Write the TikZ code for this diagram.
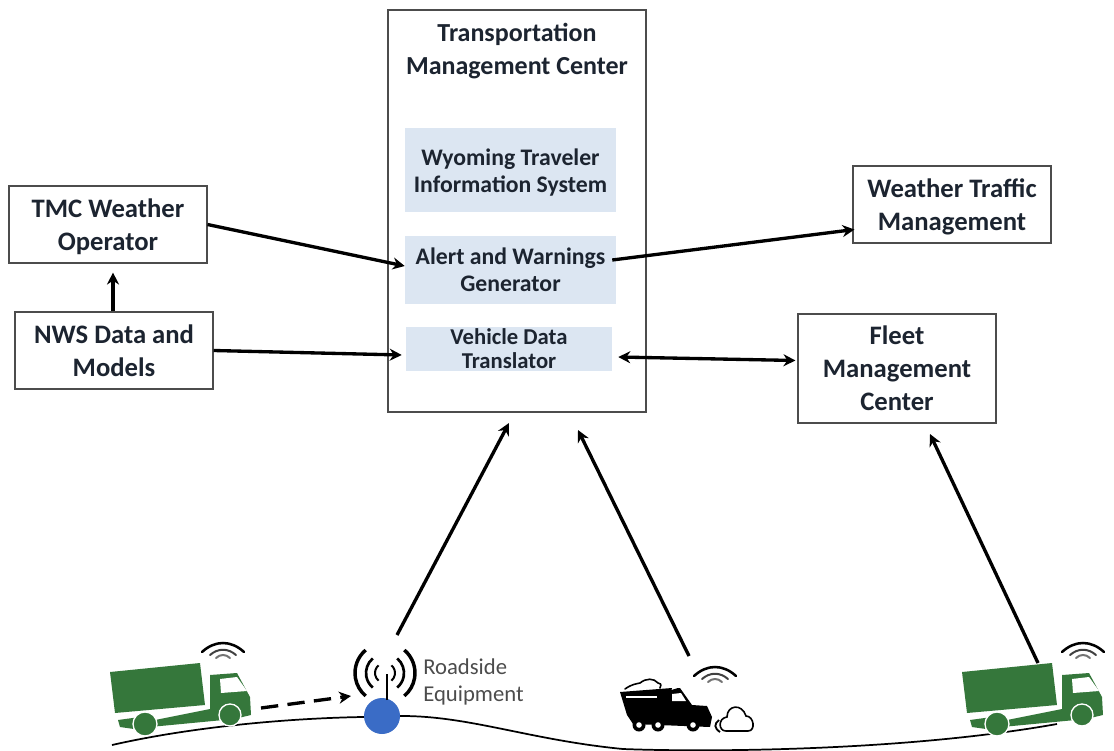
\documentclass[tikz,border=0pt]{standalone}
\usepackage{fontspec}
\setmainfont{Carlito}
\usetikzlibrary{arrows.meta}
\definecolor{ink}{HTML}{1C2430}
\definecolor{pale}{HTML}{DCE6F2}
\definecolor{truckgreen}{HTML}{35773B}
\definecolor{dotblue}{HTML}{3A6CC6}
\newcommand{\lowerbig}{\rule{0pt}{18pt}}
\newcommand{\lowersmall}{\rule{0pt}{16pt}}
\tikzset{
  x=0.75pt,y=-0.75pt,
  outerbox/.style={draw=black!70,line width=0.8pt,fill=white,align=center,inner sep=0pt,text=ink,font=\fontsize{20}{24.7}\selectfont\bfseries},
  palebox/.style={fill=pale,align=center,inner sep=0pt,text=ink,font=\fontsize{17.8}{20}\selectfont\bfseries},
  conn/.style={draw=black,line width=2.5pt,-{Stealth[length=9pt,width=9pt]}},
  wave/.style={line width=1.5pt,line cap=round},
  wifi/.pic={
    \draw[wave,line width=1.9pt] (-21,-5) .. controls (-8,-17) and (8,-17) .. (21,-5);
    \draw[wave,black!75] (-13,-2) .. controls (-5,-9) and (5,-9) .. (13,-2);
    \draw[wave,black!55] (-7,1) .. controls (-3,-3) and (3,-3) .. (7,1);
  },
  lorry/.pic={
    \fill[truckgreen] (0,9) -- (90,0) -- (95,42) -- (5,50) -- cycle;
    \fill[truckgreen] (100,12) -- (127,10) -- (140,34) -- (141,52) -- (124,56) -- (40,64) -- (40,58) -- (100,46) -- cycle;
    \fill[truckgreen] (8,57) -- (30,54) -- (24,66) -- (10,64) -- cycle;
    \fill[white] (110,16) -- (127,14) -- (137,28) -- (111,30) -- cycle;
    \draw[white,line width=1pt,fill=truckgreen] (35,61) circle[radius=12];
    \draw[white,line width=1pt,fill=truckgreen] (120,52) circle[radius=11];
  },
}
\begin{document}
\begin{tikzpicture}
\useasboundingbox (0,0) rectangle (1114,750);
\clip (0,0) rectangle (1114,750);

% road
\draw[line width=1.3pt] (112,745) .. controls (200,725) and (300,718) .. (363,717)
  -- (402,716) .. controls (470,716) and (530,740) .. (623,749)
  .. controls (700,752) and (900,752) .. (1057,724);

% main boxes
\node[outerbox,minimum width=258*0.75pt,minimum height=402*0.75pt] (tmc) at (517,211) {};
\node[text=ink,align=center,font=\fontsize{19.5}{24.5}\selectfont\bfseries] (tmctitle) at (517,51) {Transportation\\Management Center};
\node[palebox,minimum width=211*0.75pt,minimum height=84*0.75pt] (wyo) at (510.5,170) {\lowersmall Wyoming Traveler\\Information System};
\node[palebox,minimum width=211*0.75pt,minimum height=68*0.75pt] (alert) at (510.5,270) {Alert and Warnings\\Generator};
\node[palebox,minimum width=206*0.75pt,minimum height=44*0.75pt,font=\fontsize{17}{18}\selectfont\bfseries] (vdt) at (509,349) {Vehicle Data\\Translator};
\node[outerbox,minimum width=198*0.75pt,minimum height=77*0.75pt] (op) at (108,224.5) {\lowerbig TMC Weather\\Operator};
\node[outerbox,minimum width=198*0.75pt,minimum height=77*0.75pt] (nws) at (114,350.5) {NWS Data and\\Models};
\node[outerbox,minimum width=198*0.75pt,minimum height=77*0.75pt] (wtm) at (952,204.5) {\lowerbig Weather Traffic\\Management};
\node[outerbox,minimum width=198*0.75pt,minimum height=109*0.75pt] (fleet) at (897,368.5) {Fleet\\Management\\Center};

% left lorry, antenna, plough, right lorry
\pic at (110,663) {lorry};
\pic at (223,657) {wifi};
\pic at (962,663) {lorry};
\pic at (1083,657) {wifi};
\pic at (715,681) {wifi};

\fill[dotblue] (382,716) circle[radius=18];
\draw[line width=1.6pt] (387,700) -- (387,674);
\foreach \r/\w in {30/2.6pt,19/2pt,10/1.5pt}{
  \draw[line width=\w] (385,673) ++(-130:\r) arc[start angle=-130,end angle=-230,radius=\r];
  \draw[line width=\w] (385,673) ++(-50:\r) arc[start angle=-50,end angle=50,radius=\r];
}
\node[text=black!70,align=left,font=\fontsize{17}{20.5}\selectfont,anchor=west,inner sep=0pt] (rse) at (423,682) {Roadside\\Equipment};

% plough truck
\fill[black] (620,692) -- (672,688) -- (665,715) -- (627,715) -- cycle;
\fill[black] (665,692) -- (678,688) -- (680,688) -- (692,705) -- (707,706) -- (712,717) -- (710,727) -- (633,724) -- (627,715) -- cycle;
\fill[white] (672,694) -- (681,693) -- (686,701) -- (672,701) -- cycle;
\draw[white,line width=1pt] (626,697) -- (657,697);
\foreach \cx in {639,658,693}{
  \fill[black] (\cx,725) circle[radius=6.5];
  \fill[white] (\cx,725) circle[radius=2.8];
}
\draw[line width=1.4pt] (719,720) .. controls (714,724) and (714,728) .. (720,732);
\draw[line width=1.2pt,line cap=round] (726,731) .. controls (718,731) and (718,718) .. (727,717)
  .. controls (727,705) and (742,703) .. (746,716) .. controls (754,716) and (756,731) .. (748,731) -- cycle;
\draw[line width=1.2pt,line cap=round] (625,689) .. controls (632,684) and (636,684) .. (640,683)
  .. controls (646,678) and (654,678) .. (658,683) .. controls (663,684) and (660,686) .. (660,688);

% free ends
\coordinate (rseTop) at (397,635);
\coordinate (tmcA) at (509,423);
\coordinate (plowTop) at (689,656);
\coordinate (tmcB) at (578,430);
\coordinate (lorryTop) at (1038,663);
\coordinate (fleetIn) at (930,434);
\coordinate (lorryFront) at (261,708);
\coordinate (rseIn) at (351,696);

% connectors
\draw[conn] (op.east) -- ([shift={(0,-4)}]alert.west);
\draw[conn] ([shift={(-1,0)}]nws.north) -- ([shift={(5,9)}]op.south);
\draw[conn] (nws.east) -- ([shift={(-4,6)}]vdt.west);
\draw[conn] ([shift={(-4,-10)}]alert.east) -- ([shift={(2,25)}]wtm.west);
\draw[conn,{Stealth[length=9pt,width=9pt]}-{Stealth[length=9pt,width=9pt]}] ([shift={(6,8)}]vdt.east) -- ([shift={(-2,-8)}]fleet.west);
\draw[conn] (rseTop) -- (tmcA);
\draw[conn] (plowTop) -- (tmcB);
\draw[conn] (lorryTop) -- (fleetIn);
\draw[conn,dash pattern=on 13pt off 7pt] (lorryFront) -- (rseIn);
\end{tikzpicture}
\end{document}
